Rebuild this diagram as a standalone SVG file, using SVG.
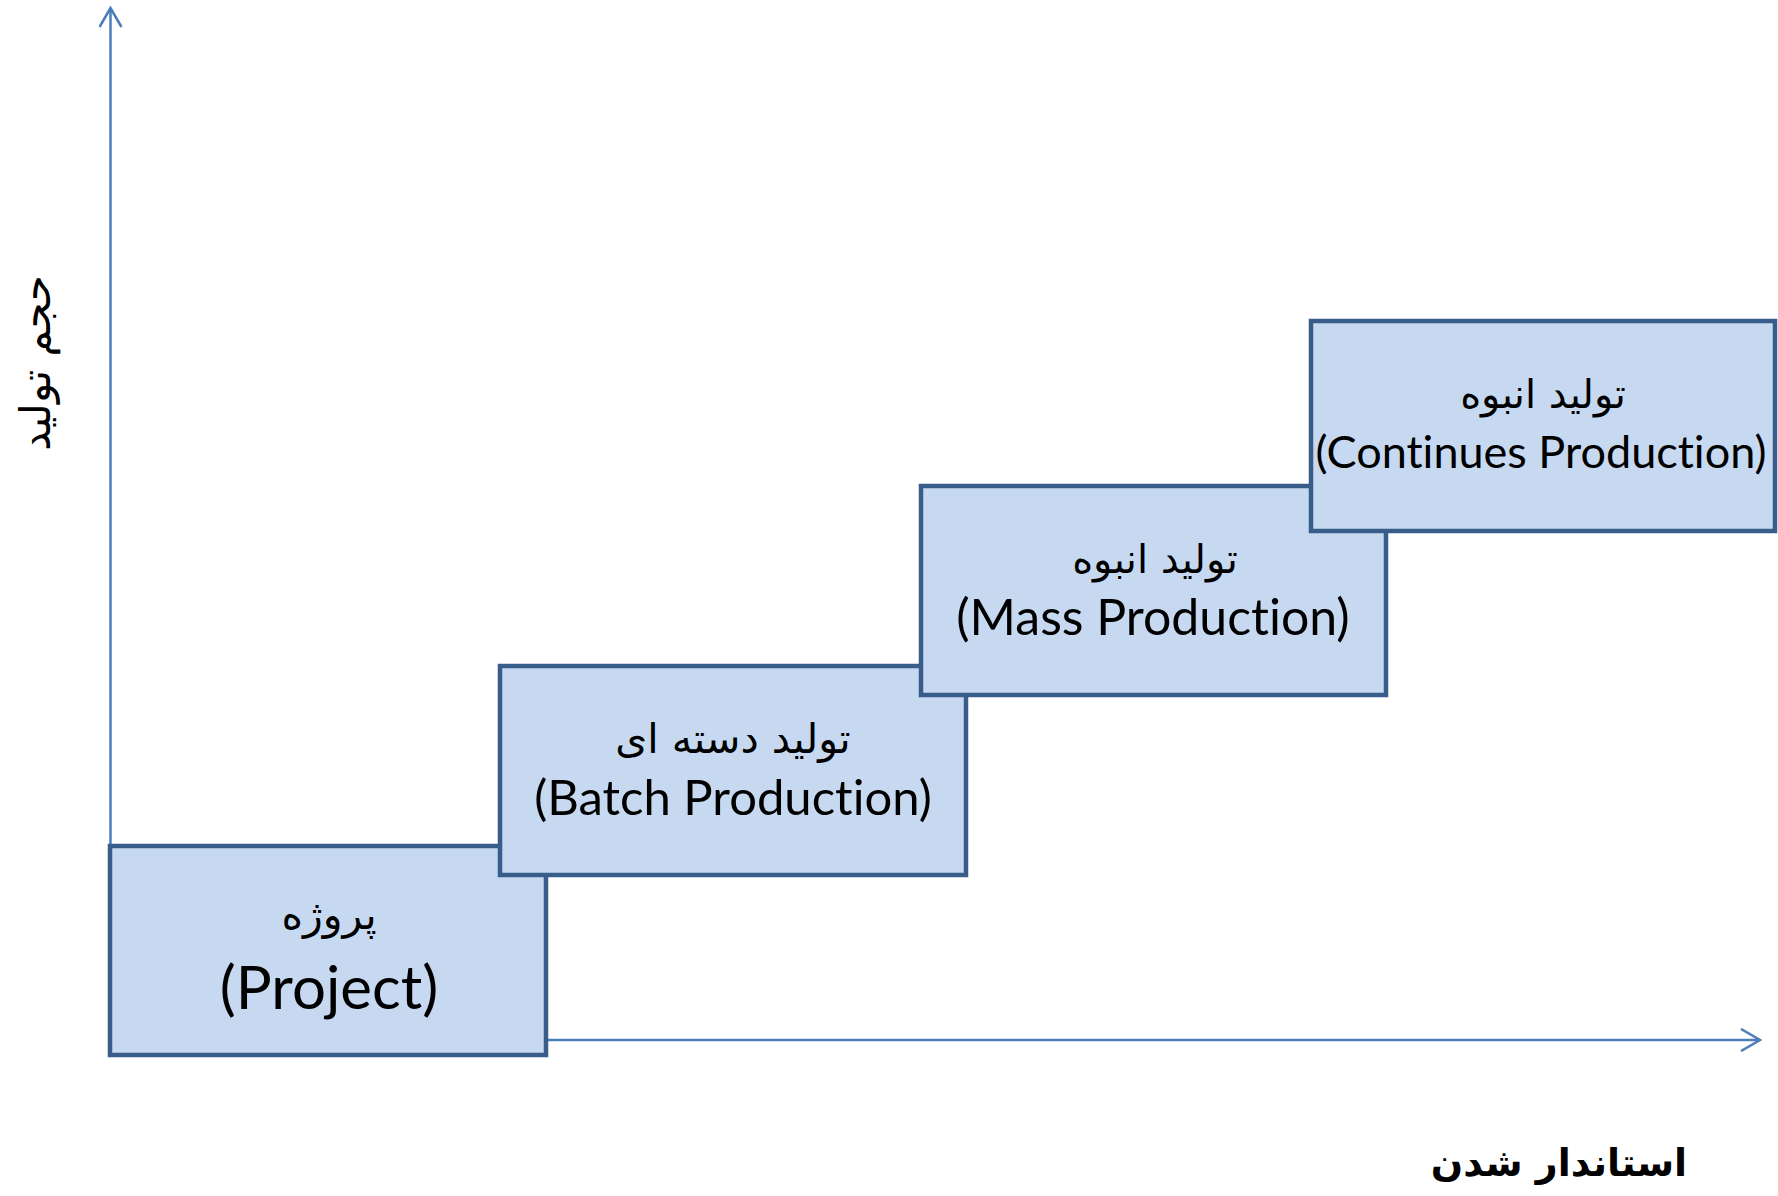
<svg xmlns="http://www.w3.org/2000/svg" width="1778" height="1196" viewBox="0 0 1778 1196">
<style>
.box{fill:#C6D9F1;stroke:#385D8A;stroke-width:4.5}
.axis{fill:none;stroke:#4A7EBB;stroke-width:2.5}
.fa{font-family:"DejaVu Sans",sans-serif;fill:#000}
.en{font-family:Lato,"Open Sans",sans-serif;fill:#000;font-variant-ligatures:none;font-feature-settings:"liga" 0}
</style>
<defs>
<marker id="arr" markerUnits="userSpaceOnUse" viewBox="0 0 22 24" markerWidth="22" markerHeight="24" refX="20" refY="12" orient="auto">
<path d="M1,1 L20,12 L1,23" fill="none" stroke="#4A7EBB" stroke-width="2.5"/>
</marker>
</defs>
<rect width="1778" height="1196" fill="#fff"/>
<g id="connectors">
<line class="axis" x1="110.5" y1="1040" x2="110.5" y2="8" marker-end="url(#arr)"/>
<line class="axis" x1="110.5" y1="1040" x2="1760" y2="1040" marker-end="url(#arr)"/>
</g>
<g id="project">
<rect class="box" x="110" y="846" width="436" height="209"/>
<text class="fa" x="329" y="929" font-size="41" text-anchor="middle">پروژه</text>
<text class="en" x="329" y="1009" font-size="60" text-anchor="middle">(Project)</text>
</g>
<g id="batch">
<rect class="box" x="500" y="666" width="466" height="209"/>
<text class="fa" x="733" y="753" font-size="41" text-anchor="middle">تولید دسته ای</text>
<text class="en" x="733" y="815" font-size="49" text-anchor="middle">(Batch Production)</text>
</g>
<g id="mass">
<rect class="box" x="921" y="486" width="465" height="209"/>
<text class="fa" x="1155" y="573" font-size="40" text-anchor="middle">تولید انبوه</text>
<text class="en" x="1153" y="635" font-size="50" text-anchor="middle">(Mass Production)</text>
</g>
<g id="continues">
<rect class="box" x="1311" y="321" width="464" height="210"/>
<text class="fa" x="1543" y="408" font-size="40" text-anchor="middle">تولید انبوه</text>
<text class="en" x="1541" y="468" font-size="45" text-anchor="middle">(Continues Production)</text>
</g>
<text class="fa" transform="translate(50,363) rotate(-90)" font-size="42" text-anchor="middle">حجم تولید</text>
<text class="fa" x="1559" y="1176" font-size="38" font-weight="bold" text-anchor="middle">استاندار شدن</text>
</svg>
